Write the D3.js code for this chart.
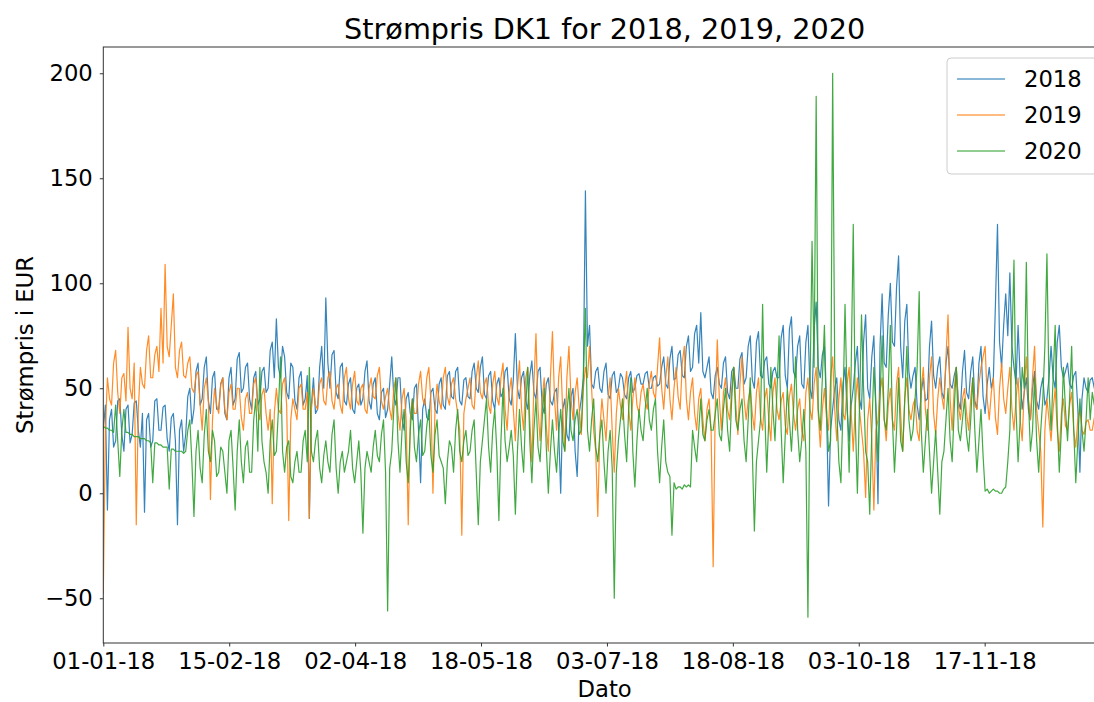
<!DOCTYPE html>
<html>
<head>
<meta charset="utf-8">
<script src="https://cdn.jsdelivr.net/npm/d3@7"></script>
<style>
  body { margin: 0; background: #fff; }
  text { font-family: "DejaVu Sans", sans-serif; fill: #000; }
</style>
</head>
<body>
<div id="chart"></div>
<script>
// prices, one value every 18 hours of the year
const stepHours = 18;
const totalHours = 8760;

const years = ["2018", "2019", "2020"];
const colors = ["#1f77b4", "#ff7f0e", "#2ca02c"];

const price2018 = [
  30, 42, -8, 35, 40, 22, 25, 44, 45, 28, 20, 40, 42, 24, 28, 43, 44, 30, 22, 38,
  -9, 35, 38, 22, 25, 44, 45, 30, 30, 41, 42, 26, 20, 36, 38, 25, -15, 30, 35, 20,
  28, 46, 50, 33, 40, 58, 62, 42, 45, 60, 65, 44, 38, 55, 58, 40, 40, 52, 55, 38,
  35, 55, 60, 42, 45, 64, 67, 48, 50, 60, 62, 45, 40, 55, 58, 42, 45, 58, 60, 48,
  50, 68, 72, 55, 83, 60, 55, 70, 65, 48, 45, 62, 60, 44, 40, 55, 58, 42, 45, 56,
  -12, 42, 55, 38, 40, 60, 70, 50, 93, 62, 50, 66, 68, 48, 45, 60, 62, 44, 42, 52,
  55, 40, 38, 50, 52, 42, 45, 58, 63, 44, 40, 52, 55, 38, 35, 48, 50, 36, 40, 52,
  65, 46, 42, 55, 55, 36, 30, 45, 48, 38, 35, 50, 52, 30, 5, 40, 45, 36, 35, 48,
  50, 40, 38, 52, 55, 42, 40, 56, 58, 46, 45, 58, 60, 44, 42, 54, 55, 46, 45, 58,
  62, 50, 48, 60, 65, 47, 45, 56, 58, 44, 40, 52, 55, 46, 48, 58, 60, 45, 42, 54,
  76, 50, 45, 55, 58, 44, 40, 56, 63, 48, 45, 58, 60, 42, 38, 52, 55, 44, 42, 48,
  50, 30, 0, 40, 45, 28, 25, 46, 50, 20, 8, 38, 45, 55, 144, 70, 80, 52, 50, 58,
  60, 50, 48, 58, 62, 47, 45, 56, 58, 48, 50, 57, 55, 47, 45, 55, 58, 48, 50, 56,
  57, 52, 52, 57, 58, 50, 50, 55, 56, 51, 52, 60, 65, 52, 50, 64, 70, 54, 55, 66,
  68, 56, 55, 70, 75, 58, 60, 76, 80, 62, 86, 58, 55, 60, 65, 48, 45, 56, 60, 52,
  50, 62, 65, 48, 45, 58, 60, 50, 50, 64, 67, 52, 55, 70, 75, 54, 50, 72, 77, 56,
  55, 63, 65, 52, 50, 58, 60, 55, 55, 74, 80, 56, 50, 78, 84, 58, 55, 70, 75, 52,
  50, 72, 80, 50, 45, 78, 91, 60, 55, 66, 70, 40, -6, 30, 40, 50, 55, 35, 30, 52,
  60, 40, 25, 42, 50, 62, 70, 45, 40, 72, 85, 50, 45, 65, 75, 40, -5, 70, 95, 62,
  60, 85, 100, 72, 70, 98, 113, 70, 55, 82, 90, 58, 50, 56, 60, 42, 35, 48, 55, 44,
  45, 70, 82, 56, 50, 60, 65, 48, 45, 62, 70, 52, 50, 56, 60, 44, 40, 58, 68, 48,
  45, 58, 65, 44, 40, 62, 70, 46, 38, 52, 60, 50, 55, 90, 128, 72, 60, 80, 95, 75,
  105, 70, 60, 52, 80, 55, 40, 48, 55, 40, 35, 50, 58, 44, 40, 50, 55, 42, 45, 55,
  70, 55, 50, 72, 80, 60, 55, 58, 62, 52, 50, 56, 58, 40, 10, 45, 55, 50, 48, 54,
  55, 50, 50, 56, 58, 52, 52
];

const price2019 = [
  -48, 30, 55, 45, 42, 62, 68, 48, 38, 55, 57, 44, 79, 50, 45, 62, -15, 40, 60, 52,
  50, 68, 75, 55, 55, 66, 70, 58, 88, 62, 109, 70, 65, 80, 95, 60, 55, 68, 72, 56,
  55, 62, 65, 50, 48, 56, 58, 42, 30, 50, 55, 44, -3, 35, 50, 42, 38, 52, 55, 40,
  35, 48, 52, 40, 40, 50, 50, 36, 30, 45, 48, 38, 38, 52, 55, 40, 35, 47, 50, 38,
  30, 40, -5, 38, 50, 40, 38, 52, 55, 42, -13, 35, 45, 40, 35, 50, 52, 40, 40, 48,
  -12, 40, 50, 42, 40, 52, 55, 44, 42, 55, 58, 44, 40, 50, 52, 42, 38, 55, 60, 45,
  40, 52, 58, 44, 42, 50, 52, 40, 38, 50, 55, 46, 45, 56, 60, 44, 40, 46, 50, 40,
  35, 50, 55, 38, 30, 45, 50, 35, -15, 35, 45, 38, 38, 52, 58, 45, 42, 55, 60, 44,
  0, 40, 52, 44, 40, 55, 60, 46, 42, 52, 55, 45, 38, 30, -20, 38, 45, 50, 55, 42,
  40, 55, 63, 48, 45, 52, 55, 42, 38, 52, 58, 46, 42, 55, 62, 40, 30, 48, 55, 40,
  25, 50, 63, 40, 30, 55, 60, 35, 15, 52, 76, 40, 25, 45, 55, 32, 20, 55, 77, 45,
  30, 55, 65, 38, 20, 55, 70, 45, 35, 48, 55, 40, 28, 50, 60, 55, 70, 50, 30, 20,
  -11, 30, 45, 35, 25, 45, 55, 30, 10, 38, 50, 42, 35, 50, 58, 40, 30, 45, 55, 42,
  38, 48, 52, 44, 40, 52, 58, 48, 45, 60, 74, 50, 40, 55, 65, 45, 35, 50, 60, 46,
  40, 62, 70, 45, 35, 48, 55, 38, 30, 45, 50, 35, 25, 40, 45, 30, -35, 40, 73, 45,
  30, 48, 55, 40, 35, 50, 60, 42, 28, 52, 65, 45, 35, 44, 50, 38, 30, 48, 55, 36,
  30, 45, 50, 35, 25, 48, 55, 40, 35, 44, 48, 32, 28, 46, 52, 38, 30, 40, 45, 30,
  25, 48, 55, 40, 35, 52, 60, 38, 22, 40, 50, 36, 30, 55, 65, 40, 25, 45, 55, 38,
  35, 52, 60, 38, 20, 42, 55, 40, 30, 20, -2, 35, 45, 25, -8, 30, 35, 48, 55, 36,
  25, 42, 50, 35, 30, 52, 60, 38, 20, 45, 55, 40, 35, 42, 45, 30, 25, 50, 60, 40,
  30, 55, 65, 38, 28, 45, 55, 46, 40, 65, 85, 45, 30, 50, 60, 42, 35, 45, 50, 38,
  30, 45, 55, 42, 40, 52, 60, 65, 70, 45, 35, 48, 55, 36, 28, 50, 62, 45, 38, 50,
  60, 40, 30, 45, 55, 35, 25, 50, 65, 45, 35, 55, 70, 40, 30, 20, -16, 30, 45, 35,
  25, 40, 50, 30, 20, 38, 45, 32, 30, 42, 48, 30, 22, 35, 40, 30, 28, 34, 35, 30,
  30, 36, 38, 32, 32, 36, 36
];

const price2020 = [
  32, 31, 31, 30, 30, 29, 42, 25, 8, 30, 40, 29, 29, 28, 28, 27, 27, 27, 26, 26,
  26, 25, 25, 24, 5, 24, 24, 23, 23, 22, 22, 22, 2, 21, 21, 20, 20, 20, 20, 19,
  20, 30, 35, 15, -11, 20, 30, 12, 5, 28, 40, 20, 15, 30, 25, 8, 10, 22, 20, 10,
  0, 25, 30, 12, -8, 20, 35, 15, 5, 22, 25, 10, 10, 35, 45, 20, 60, 25, 15, 10,
  0, 25, 35, 18, 20, 40, 65, 20, 10, 22, 25, 8, 5, 15, 20, 10, 10, 25, 30, 15,
  60, 20, 15, 25, 30, 12, 5, 18, 25, 15, 10, 28, 35, 12, 0, 15, 20, 10, 15, 20,
  30, 12, 5, 15, 25, 10, -19, 12, 20, 15, 10, 22, 30, 18, 15, 28, 35, 10, -56, 12,
  20, 40, 55, 25, 10, 30, 40, 15, 5, 30, 45, 22, 15, 28, 35, 18, 20, 32, 40, 18,
  10, 28, 35, 18, 15, 12, -5, 15, 25, 22, 10, 30, 40, 20, 15, 25, 30, 18, 20, 30,
  35, 10, -15, 15, 25, 35, 45, 22, 10, 30, 40, 20, -13, 25, 50, 25, 15, 22, 30, 18,
  -10, 20, 40, 22, 10, 40, 60, 25, 5, 30, 45, 22, 15, 35, 50, 22, 0, 20, 35, 20,
  10, 28, 40, 25, 20, 38, 50, 30, 25, 35, 40, 28, 30, 55, 88, 30, 20, 35, 45, 22,
  15, 28, 35, 15, 0, 20, 30, 12, -50, 10, 25, 35, 45, 28, 15, 40, 55, 20, 3, 25,
  40, 30, 25, 40, 50, 35, 30, 40, 45, 20, 5, 22, 35, 15, 10, 8, -20, 5, 2, 3,
  3, 2, 4, 3, 4, 3, 30, 22, 15, 30, 45, 28, 25, 35, 40, 30, 30, 38, 45, 28,
  25, 40, 50, 30, 20, 45, 60, 35, 30, 40, 45, 25, 15, 35, 55, 20, -18, 15, 25, 35,
  90, 40, 10, 35, 60, 40, 25, 50, 75, 30, 5, 28, 50, 35, 20, 40, 65, 30, 15, 25,
  40, 20, -59, 50, 120, 60, 189, 40, 30, 55, 80, 40, 20, 25, 200, 60, 40, 15, 5, 40,
  90, 45, 10, 60, 128, 35, 0, 40, 85, 50, 20, 15, -10, 30, 60, 40, 15, 45, 75, 35,
  30, 50, 80, 35, 10, 30, 55, 25, 20, 45, 70, 35, 25, 30, 45, 60, 96, 30, 10, 25,
  40, 20, 0, 15, 30, 10, -10, 15, 20, 35, 50, 25, 15, 40, 60, 30, 25, 35, 45, 28,
  20, 35, 55, 30, 10, 25, 40, 18, 1, 2, 0, 1, 2, 1, 1, 0, 0, 2, 3, 15,
  30, 70, 111, 40, 15, 35, 60, 50, 110, 45, 20, 30, 55, 25, 10, 30, 45, 70, 114, 50,
  30, 55, 80, 35, 10, 30, 60, 40, 25, 45, 70, 30, 5, 25, 45, 30, 20, 35, 55, 35,
  48, 42, 40, 50, 50, 45, 45
];

const seriesValues = [price2018, price2019, price2020];

const xTickHours = [0, 1100, 2200, 3300, 4400, 5500, 6600, 7700];
const xTickLabels = ["01-01-18", "15-02-18", "02-04-18", "18-05-18",
                     "03-07-18", "18-08-18", "03-10-18", "17-11-18"];
const yTicks = [-50, 0, 50, 100, 150, 200];

const width = 1094, height = 702;
const plot = {left: 103.3, right: 1106, top: 47, bottom: 643};

const svg = d3.select("#chart")
  .append("svg")
    .attr("width", width)
    .attr("height", height);

const x = d3.scaleLinear()
  .domain([0, totalHours])
  .range([plot.left, plot.right]);

const y = d3.scaleLinear()
  .domain([-71.3, 212.5])
  .range([plot.bottom, plot.top]);

svg.append("defs").append("clipPath")
    .attr("id", "plot-clip")
  .append("rect")
    .attr("x", plot.left)
    .attr("y", plot.top)
    .attr("width", plot.right - plot.left)
    .attr("height", plot.bottom - plot.top);

// lines, 2018 first so 2020 ends up on top
const line = d3.line()
  .x(function(d, i) { return x(i * stepHours); })
  .y(function(d) { return y(d); });

svg.append("g")
    .attr("clip-path", "url(#plot-clip)")
  .selectAll("path")
  .data(seriesValues)
  .enter()
  .append("path")
    .attr("d", line)
    .attr("fill", "none")
    .attr("stroke", function(d, i) { return colors[i]; })
    .attr("stroke-width", 1.2)
    .attr("stroke-linejoin", "round")
    .attr("stroke-opacity", 0.9);

// axes
const xAxis = svg.append("g")
  .attr("transform", "translate(0," + plot.bottom + ")")
  .call(d3.axisBottom(x)
    .tickValues(xTickHours)
    .tickFormat(function(d, i) { return xTickLabels[i]; })
    .tickSize(3.5)
    .tickPadding(6));

const yAxis = svg.append("g")
  .attr("transform", "translate(" + plot.left + ",0)")
  .call(d3.axisLeft(y)
    .tickValues(yTicks)
    .tickFormat(function(d) { return d < 0 ? "\u2212" + Math.abs(d) : d; })
    .tickSize(3.5)
    .tickPadding(7));

[xAxis, yAxis].forEach(function(a) {
  a.select(".domain").remove();
  a.selectAll(".tick line").attr("stroke", "#333").attr("stroke-width", 1);
  a.selectAll(".tick text")
    .style("font-family", "'DejaVu Sans', sans-serif")
    .style("font-size", "22.7px")
    .attr("fill", "#000");
});

// frame
svg.append("rect")
  .attr("x", plot.left)
  .attr("y", plot.top)
  .attr("width", plot.right - plot.left)
  .attr("height", plot.bottom - plot.top)
  .attr("fill", "none")
  .attr("stroke", "#333")
  .attr("stroke-width", 1);

// title and labels
const midX = (plot.left + plot.right) / 2;

svg.append("text")
  .attr("x", midX)
  .attr("y", 39)
  .attr("text-anchor", "middle")
  .style("font-size", "28.7px")
  .text("Strømpris DK1 for 2018, 2019, 2020");

svg.append("text")
  .attr("x", midX)
  .attr("y", 697)
  .attr("text-anchor", "middle")
  .style("font-size", "22.7px")
  .text("Dato");

svg.append("text")
  .attr("transform", "translate(33," + ((plot.top + plot.bottom) / 2) + ")rotate(-90)")
  .attr("text-anchor", "middle")
  .style("font-size", "22.7px")
  .text("Strømpris i EUR");

// legend
const legend = svg.append("g");

legend.append("rect")
  .attr("x", 947)
  .attr("y", 58)
  .attr("width", 150)
  .attr("height", 116)
  .attr("rx", 4)
  .attr("fill", "#fff")
  .attr("fill-opacity", 0.8)
  .attr("stroke", "#ccc")
  .attr("stroke-width", 1);

const rows = legend.selectAll(".row")
  .data(years)
  .enter()
  .append("g")
    .attr("class", "row")
    .attr("transform", function(d, i) { return "translate(0," + (79 + i * 36) + ")"; });

rows.append("line")
  .attr("x1", 957)
  .attr("x2", 1005)
  .attr("stroke", function(d, i) { return colors[i]; })
  .attr("stroke-width", 1.3)
  .attr("stroke-opacity", 0.7);

rows.append("text")
  .attr("x", 1024)
  .attr("dy", "0.36em")
  .style("font-size", "22.7px")
  .text(function(d) { return d; });
</script>
</body>
</html>
